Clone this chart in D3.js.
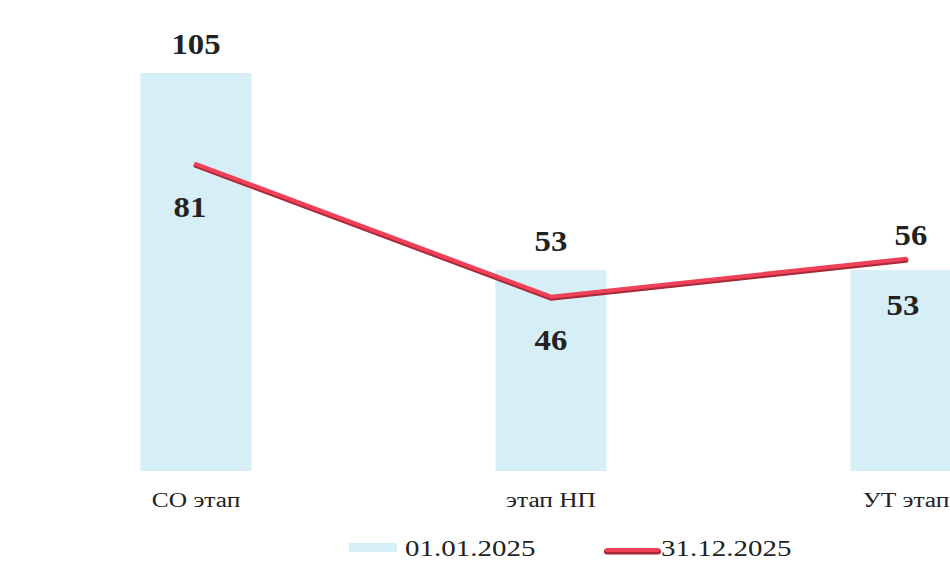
<!DOCTYPE html>
<html>
<head>
<meta charset="utf-8">
<script src="https://cdn.jsdelivr.net/npm/d3@7"></script>
<style>
  body { margin: 0; background: #fff; }
  svg { display: block; }
</style>
</head>
<body>
<div id="chart"></div>
<script>
'use strict';

// data
var categories = ["СО этап", "этап НП", "УТ этап"];
var values2025start = [105, 53, 53];   // bars, 01.01.2025
var values2025end = [81, 46, 56];      // line, 31.12.2025
var seriesNames = ["01.01.2025", "31.12.2025"];

var width = 950, height = 566;
var serif = "'Liberation Serif', 'Times New Roman', serif";

var svg = d3.select("#chart").append("svg")
    .attr("width", width)
    .attr("height", height);

// x: bands, step ~355px, chart runs past the right edge like the scan
var x = d3.scaleBand()
    .domain(categories)
    .range([18.5, 1083.5])
    .paddingInner(0.687)
    .paddingOuter(0.3435);

var y = d3.scaleLinear()
    .domain([0, 120])
    .range([471, 471 - 120 * 3.79]);

// bars
svg.selectAll(".bar")
    .data(categories)
    .enter().append("rect")
    .attr("class", "bar")
    .attr("x", function(d) { return x(d); })
    .attr("y", function(d, i) { return y(values2025start[i]); })
    .attr("width", x.bandwidth())
    .attr("height", function(d, i) { return y(0) - y(values2025start[i]); })
    .attr("fill", "#d6eef5");

// line
var line = d3.line()
    .x(function(d, i) { return x(categories[i]) + x.bandwidth() / 2; })
    .y(function(d) { return y(d); });

svg.append("path")
    .datum(values2025end)
    .attr("d", line)
    .attr("fill", "none")
    .attr("stroke", "#a8283a")
    .attr("stroke-width", 5)
    .attr("stroke-linecap", "round")
    .attr("stroke-linejoin", "round")
    .attr("transform", "translate(0,1.5)");

svg.append("path")
    .datum(values2025end)
    .attr("d", line)
    .attr("fill", "none")
    .attr("stroke", "#ef4259")
    .attr("stroke-width", 4)
    .attr("stroke-linecap", "round")
    .attr("stroke-linejoin", "round");

// stretched text helper (the scan is wider than it is tall)
function stretchedText(px, py, str, size, sx, weight) {
    svg.append("text")
        .attr("transform", "translate(" + px + "," + py + ") scale(" + sx + ",1)")
        .attr("text-anchor", "middle")
        .style("font-family", serif)
        .style("font-size", size + "px")
        .style("font-weight", weight || "normal")
        .attr("fill", "#222")
        .text(str);
}

// value labels
categories.forEach(function(c, i) {
    var cx = x(c) + x.bandwidth() / 2;
    var b = values2025start[i], l = values2025end[i];
    if (l < b) {
        stretchedText(cx, y(b) - 19, b, 29, 1.13, "bold");
        stretchedText(cx - 6 * (i === 0), y(l) + 53, l, 29, 1.13, "bold");
    } else {
        stretchedText(cx + 5, y(l) - 14, l, 29, 1.13, "bold");
        stretchedText(cx - 3, y(b) + 45, b, 29, 1.13, "bold");
    }
});

// category labels
categories.forEach(function(c) {
    stretchedText(x(c) + x.bandwidth() / 2, 507, c, 20, 1.27);
});

// legend
svg.append("rect")
    .attr("x", 349).attr("y", 543)
    .attr("width", 48).attr("height", 9)
    .attr("fill", "#d6eef5");

svg.append("text")
    .attr("transform", "translate(405,556) scale(1.26,1)")
    .style("font-family", serif)
    .style("font-size", "23px")
    .attr("fill", "#222")
    .text(seriesNames[0]);

svg.append("line")
    .attr("x1", 607).attr("x2", 658)
    .attr("y1", 551.5).attr("y2", 551.5)
    .attr("stroke", "#a8283a")
    .attr("stroke-width", 6)
    .attr("stroke-linecap", "round");

svg.append("line")
    .attr("x1", 607).attr("x2", 658)
    .attr("y1", 550).attr("y2", 550)
    .attr("stroke", "#ef4259")
    .attr("stroke-width", 4)
    .attr("stroke-linecap", "round");

svg.append("text")
    .attr("transform", "translate(661,556) scale(1.26,1)")
    .style("font-family", serif)
    .style("font-size", "23px")
    .attr("fill", "#222")
    .text(seriesNames[1]);
</script>
</body>
</html>
